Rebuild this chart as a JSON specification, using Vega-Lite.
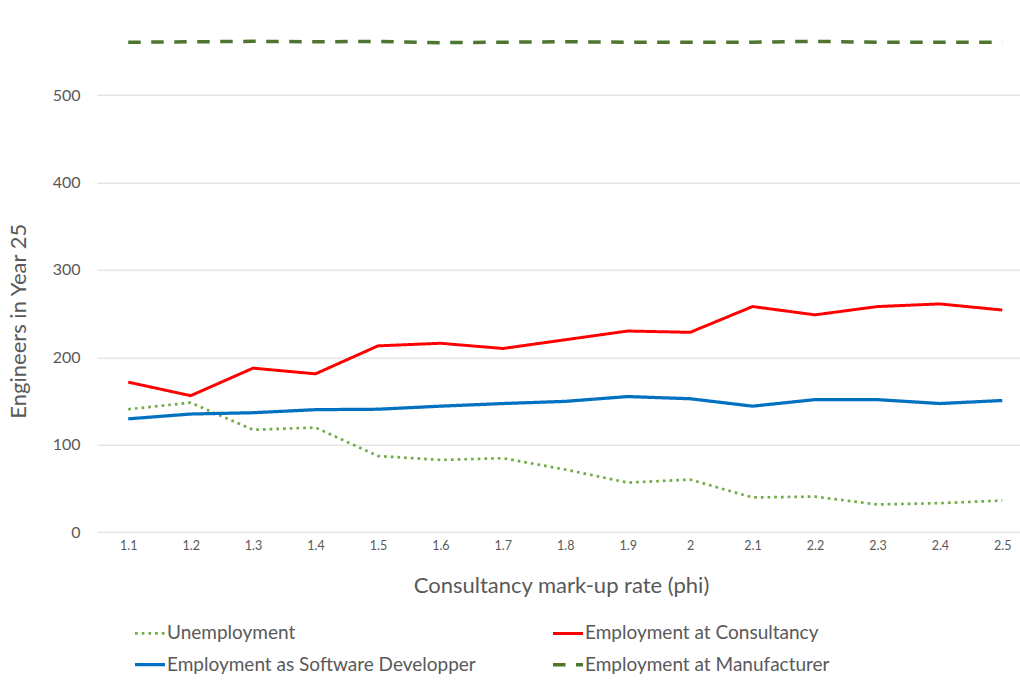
{
  "$schema": "https://vega.github.io/schema/vega-lite/v6.json",
  "autosize": {"type": "none"},
  "padding": {"top": 7.7, "left": 97, "right": 0, "bottom": 149},
  "width": 923,
  "height": 524.3,
  "background": "white",
  "config": {
    "font": "Lato",
    "view": {"stroke": null},
    "axis": {"labelColor": "#595959", "titleColor": "#595959", "labelFont": "Lato", "titleFont": "Lato", "titleFontWeight": "normal"}
  },
  "data": {"values": [
    {"phi": "1.1", "series": "Unemployment", "value": 140.5},
    {"phi": "1.2", "series": "Unemployment", "value": 148},
    {"phi": "1.3", "series": "Unemployment", "value": 117},
    {"phi": "1.4", "series": "Unemployment", "value": 119.5},
    {"phi": "1.5", "series": "Unemployment", "value": 87},
    {"phi": "1.6", "series": "Unemployment", "value": 82.5},
    {"phi": "1.7", "series": "Unemployment", "value": 84.5},
    {"phi": "1.8", "series": "Unemployment", "value": 71.5},
    {"phi": "1.9", "series": "Unemployment", "value": 56.5},
    {"phi": "2", "series": "Unemployment", "value": 60},
    {"phi": "2.1", "series": "Unemployment", "value": 39.5},
    {"phi": "2.2", "series": "Unemployment", "value": 40.5},
    {"phi": "2.3", "series": "Unemployment", "value": 31.5},
    {"phi": "2.4", "series": "Unemployment", "value": 33},
    {"phi": "2.5", "series": "Unemployment", "value": 36},
    {"phi": "1.1", "series": "Employment at Consultancy", "value": 171.5},
    {"phi": "1.2", "series": "Employment at Consultancy", "value": 156},
    {"phi": "1.3", "series": "Employment at Consultancy", "value": 187.5},
    {"phi": "1.4", "series": "Employment at Consultancy", "value": 181},
    {"phi": "1.5", "series": "Employment at Consultancy", "value": 213},
    {"phi": "1.6", "series": "Employment at Consultancy", "value": 216},
    {"phi": "1.7", "series": "Employment at Consultancy", "value": 210},
    {"phi": "1.8", "series": "Employment at Consultancy", "value": 220},
    {"phi": "1.9", "series": "Employment at Consultancy", "value": 230},
    {"phi": "2", "series": "Employment at Consultancy", "value": 228.5},
    {"phi": "2.1", "series": "Employment at Consultancy", "value": 258},
    {"phi": "2.2", "series": "Employment at Consultancy", "value": 248.5},
    {"phi": "2.3", "series": "Employment at Consultancy", "value": 258},
    {"phi": "2.4", "series": "Employment at Consultancy", "value": 261},
    {"phi": "2.5", "series": "Employment at Consultancy", "value": 254},
    {"phi": "1.1", "series": "Employment as Software Developper", "value": 129.5},
    {"phi": "1.2", "series": "Employment as Software Developper", "value": 135},
    {"phi": "1.3", "series": "Employment as Software Developper", "value": 136.5},
    {"phi": "1.4", "series": "Employment as Software Developper", "value": 140},
    {"phi": "1.5", "series": "Employment as Software Developper", "value": 140.5},
    {"phi": "1.6", "series": "Employment as Software Developper", "value": 144},
    {"phi": "1.7", "series": "Employment as Software Developper", "value": 147},
    {"phi": "1.8", "series": "Employment as Software Developper", "value": 149.5},
    {"phi": "1.9", "series": "Employment as Software Developper", "value": 155},
    {"phi": "2", "series": "Employment as Software Developper", "value": 152.5},
    {"phi": "2.1", "series": "Employment as Software Developper", "value": 144},
    {"phi": "2.2", "series": "Employment as Software Developper", "value": 151.5},
    {"phi": "2.3", "series": "Employment as Software Developper", "value": 151.5},
    {"phi": "2.4", "series": "Employment as Software Developper", "value": 147},
    {"phi": "2.5", "series": "Employment as Software Developper", "value": 150.5},
    {"phi": "1.1", "series": "Employment at Manufacturer", "value": 560.5},
    {"phi": "1.2", "series": "Employment at Manufacturer", "value": 561},
    {"phi": "1.3", "series": "Employment at Manufacturer", "value": 561.5},
    {"phi": "1.4", "series": "Employment at Manufacturer", "value": 561},
    {"phi": "1.5", "series": "Employment at Manufacturer", "value": 561.5},
    {"phi": "1.6", "series": "Employment at Manufacturer", "value": 560},
    {"phi": "1.7", "series": "Employment at Manufacturer", "value": 560.5},
    {"phi": "1.8", "series": "Employment at Manufacturer", "value": 561},
    {"phi": "1.9", "series": "Employment at Manufacturer", "value": 560.5},
    {"phi": "2", "series": "Employment at Manufacturer", "value": 560.5},
    {"phi": "2.1", "series": "Employment at Manufacturer", "value": 560.5},
    {"phi": "2.2", "series": "Employment at Manufacturer", "value": 561.5},
    {"phi": "2.3", "series": "Employment at Manufacturer", "value": 560.5},
    {"phi": "2.4", "series": "Employment at Manufacturer", "value": 560.5},
    {"phi": "2.5", "series": "Employment at Manufacturer", "value": 560.5}
  ]},
  "mark": {"type": "line", "strokeCap": "butt", "strokeJoin": "round"},
  "encoding": {
    "x": {
      "field": "phi", "type": "ordinal", "sort": null,
      "scale": {"type": "point", "padding": 0.5, "range": [0, 936.5]},
      "axis": {
        "title": "Consultancy mark-up rate (phi)",
        "labelAngle": 0, "labelFontSize": 12.5, "labelPadding": 7,
        "domain": false, "ticks": false, "grid": false,
        "titleFontSize": 22, "titleX": 464, "titleY": 53, "titleBaseline": "middle", "titleAlign": "center"
      }
    },
    "y": {
      "field": "value", "type": "quantitative",
      "scale": {"domain": [0, 600], "nice": false},
      "axis": {
        "title": "Engineers in Year 25",
        "values": [0, 100, 200, 300, 400, 500],
        "labelFontSize": 16, "labelPadding": 17,
        "domain": false, "ticks": false,
        "grid": true, "gridColor": "#D9D9D9", "gridWidth": 1,
        "titleFontSize": 22, "titleX": -79, "titleY": 313, "titleAngle": -90,
        "titleBaseline": "middle", "titleAlign": "center"
      }
    },
    "color": {
      "field": "series", "type": "nominal",
      "scale": {
        "domain": ["Unemployment", "Employment at Consultancy", "Employment as Software Developper", "Employment at Manufacturer"],
        "range": ["#70AD47", "#FF0000", "#0070C0", "#4E7631"]
      },
      "legend": {
        "title": null, "orient": "none", "legendX": 36, "legendY": 609,
        "direction": "horizontal", "columns": 2, "columnPadding": 70, "rowPadding": 4,
        "symbolType": "stroke", "symbolSize": 900, "symbolStrokeWidth": 3.5,
        "labelFontSize": 19, "labelColor": "#595959", "labelFont": "Lato", "labelOffset": 0, "labelLimit": 500
      }
    },
    "strokeDash": {
      "field": "series", "type": "nominal",
      "scale": {
        "domain": ["Unemployment", "Employment at Consultancy", "Employment as Software Developper", "Employment at Manufacturer"],
        "range": [[2.7, 4], [1, 0], [1, 0], [12.5, 10.5]]
      }
    },
    "strokeWidth": {
      "field": "series", "type": "nominal",
      "scale": {
        "domain": ["Unemployment", "Employment at Consultancy", "Employment as Software Developper", "Employment at Manufacturer"],
        "range": [2.7, 3.5, 3.5, 3.5]
      },
      "legend": null
    }
  }
}
